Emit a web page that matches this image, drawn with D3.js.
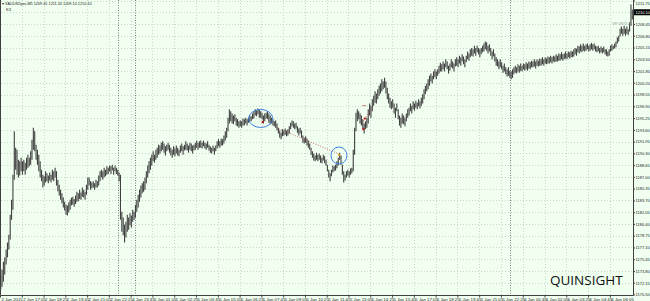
<!DOCTYPE html>
<html>
<head>
<meta charset="utf-8">
<script src="https://cdn.jsdelivr.net/npm/d3@7"></script>
<style>
	html, body { margin:0; padding:0; background:#f0fff0; }
	svg { display:block; font-family:"Liberation Sans", Arial, sans-serif; }
</style>
</head>
<body>
<svg id="chart" width="650" height="301"></svg>
<script>
// XAUUSD M5 candles, 2 Jan 2015 -> 6 Jan 2015, drawn as high/low bars
//	One pair of arrays (lo, hi) per trading session

var jan2Lo = [1171.2,1171.6,1172.3,1173.3,1174.7,1175.7,1176.8,1178.2,1181.0,1182.4,
	1186.6,1188.0,1187.3,1186.9,1187.2,1187.8,1187.3,1187.8,1187.3,1188.0,
	1188.3,1188.5,1188.7,1189.4,1190.8,1190.6,1189.4,1188.7,1187.8,1186.9,
	1186.4,1185.5,1185.8,1186.2,1186.4,1186.1,1186.5,1186.2,1186.6,1186.4,
	1186.9,1185.8,1185.0,1184.4,1183.8,1183.3,1182.7,1182.3,1181.7,1181.6,
	1182.0,1182.4,1183.0,1183.1,1182.8,1183.2,1183.5,1183.6,1183.9,1183.8,
	1184.2,1184.1,1183.8,1184.5,1185.2,1185.8,1185.2,1185.4,1185.5,1185.2,
	1185.5,1185.5,1185.8,1186.4,1186.9,1186.6,1186.9,1187.1,1187.3,1187.4,
	1187.8,1187.4,1187.9,1187.3,1187.8,1187.4,1187.2];
var jan2Hi = [1173.3,1174.0,1175.1,1175.7,1176.8,1177.8,1178.9,1181.7,1183.8,1187.3,
	1193.4,1191.1,1190.8,1189.4,1189.2,1189.7,1189.2,1189.4,1189.0,1189.7,
	1190.1,1189.7,1190.6,1192.2,1193.9,1193.4,1191.5,1190.8,1190.1,1189.2,
	1188.0,1187.3,1187.1,1187.8,1187.5,1187.2,1187.6,1187.3,1188.0,1187.8,
	1188.3,1187.8,1186.6,1185.9,1185.2,1184.7,1184.1,1183.5,1183.1,1183.0,
	1183.4,1183.8,1184.1,1184.2,1183.9,1184.4,1184.9,1184.7,1185.2,1184.8,
	1185.5,1185.2,1184.9,1185.9,1186.9,1186.9,1186.4,1186.2,1186.4,1186.1,
	1186.6,1186.4,1187.2,1187.8,1188.0,1187.8,1188.3,1188.0,1188.5,1188.3,
	1188.6,1188.5,1188.7,1188.3,1188.6,1188.3,1188.0];

var jan4Lo = [1186.4,1181.0,1179.3,1178.8,1177.8,1178.5,1179.3,1179.6,1180.2,1179.9,1180.7,1181.0];
var jan4Hi = [1187.6,1187.3,1182.1,1181.3,1180.3,1180.7,1181.7,1181.3,1181.9,1181.6,1182.4,1182.1];

var jan5Lo = [1181.3,1182.1,1182.7,1183.5,1184.1,1184.7,1184.9,1185.2,1186.1,1186.9,
	1187.5,1188.0,1188.6,1189.2,1189.0,1189.4,1189.7,1190.1,1190.3,1190.6,
	1190.8,1190.4,1190.0,1190.6,1190.8,1190.4,1190.0,1189.7,1190.1,1189.9,
	1190.3,1190.0,1189.9,1190.4,1190.6,1190.1,1190.7,1190.8,1190.7,1190.4,
	1190.8,1190.6,1190.3,1190.7,1190.8,1191.1,1190.8,1191.1,1191.1,1191.0,
	1191.3,1191.0,1190.8,1191.1,1190.7,1190.4,1190.3,1190.6,1190.1,1190.6,
	1191.0,1191.3,1191.1,1191.4,1191.4,1191.7,1192.1,1192.5,1193.4,1194.5,
	1194.8,1194.5,1194.4,1194.8,1194.2,1194.1,1193.9,1194.1,1193.9,1194.2,
	1194.2,1194.5,1194.2,1194.6,1194.8,1194.8,1195.1,1195.2,1195.6,1195.5,
	1195.8,1195.3,1195.3,1195.1,1194.5,1194.8,1195.2,1195.1,1194.6,1194.4,
	1194.5,1194.2,1194.1,1193.9,1193.5,1193.1,1192.5,1192.3,1192.7,1192.8,
	1192.9,1192.7,1192.8,1193.1,1193.7,1194.1,1193.9,1193.7,1193.8,1193.2,
	1192.8,1193.1,1192.5,1191.8,1191.7,1191.8,1191.4,1191.1,1190.8,1190.1,
	1189.7,1189.3,1189.2,1189.4,1189.2,1189.4,1189.0,1188.9,1189.3,1188.9,
	1188.6,1187.8,1186.9,1186.4,1187.1,1187.6,1187.8,1187.9,1188.2,1188.6,
	1189.4,1188.7,1187.3,1186.2,1186.5,1186.9,1187.2,1186.9,1187.3,1187.5,
	1187.8,1190.1,1193.4,1194.8,1195.1,1194.5,1194.2,1193.7,1193.1,1193.7,
	1193.9,1194.5,1195.6,1195.3,1196.2,1197.0,1197.4,1197.3,1197.9,1198.4,
	1198.7,1199.0,1199.3,1199.5,1198.7,1197.9,1197.3,1196.7,1196.5,1196.7,
	1195.9,1195.3,1196.2,1195.1,1194.2,1193.9,1194.5,1194.4,1194.1,1194.8,
	1195.3,1195.6,1196.2,1195.9,1196.5,1196.3,1196.7,1196.5,1196.9,1196.6,
	1197.0,1197.3,1197.9,1198.6,1199.0,1199.3,1199.8,1200.4,1200.1,1200.7,
	1201.0,1200.7,1201.2,1201.5,1201.8,1201.8,1202.1,1201.8,1202.4,1202.1,
	1201.5,1201.9,1202.4,1202.2,1201.8,1202.5,1202.6,1202.4,1202.9,1202.6,
	1203.2,1202.8,1202.4,1203.1,1203.5,1203.3,1203.8,1204.0,1203.9,1204.3,
	1204.0,1204.5,1204.2,1203.8,1204.2,1204.5,1204.6,1204.9,1204.7,1204.3,
	1204.6,1204.0,1203.5,1203.9,1203.2,1202.6,1202.5,1202.1,1202.4,1202.1,
	1201.6,1201.8,1201.4,1201.1,1201.2,1200.9];
var jan5Hi = [1183.1,1183.8,1184.5,1185.2,1185.8,1186.1,1186.4,1186.9,1187.8,1188.6,
	1189.2,1189.7,1190.1,1190.6,1190.1,1190.8,1191.1,1191.5,1191.4,1191.8,
	1192.0,1191.7,1191.3,1191.5,1191.8,1191.5,1191.1,1190.8,1191.3,1191.0,
	1191.4,1191.1,1190.8,1191.4,1191.7,1191.3,1191.5,1192.0,1191.7,1191.4,
	1191.8,1191.7,1191.4,1191.5,1191.8,1192.1,1191.8,1192.0,1192.1,1191.8,
	1192.1,1191.8,1191.7,1192.0,1191.5,1191.3,1191.1,1191.4,1191.1,1191.4,
	1192.0,1192.3,1192.0,1192.4,1192.3,1192.8,1193.4,1193.9,1195.3,1196.5,
	1196.2,1195.9,1195.6,1195.8,1195.3,1195.1,1194.8,1194.9,1194.8,1195.2,
	1195.1,1195.3,1195.1,1195.3,1195.6,1195.5,1195.9,1196.2,1196.5,1196.3,
	1196.6,1196.5,1196.2,1196.0,1195.6,1195.9,1196.0,1196.2,1195.9,1195.6,
	1195.3,1195.1,1194.8,1194.9,1194.5,1193.9,1193.5,1193.2,1193.7,1193.5,
	1193.8,1193.5,1193.7,1194.1,1194.6,1194.9,1194.8,1194.5,1194.6,1194.1,
	1193.8,1193.9,1193.5,1192.8,1192.5,1192.7,1192.4,1192.1,1191.7,1191.1,
	1190.6,1190.3,1190.0,1190.4,1190.1,1190.3,1190.0,1189.7,1190.1,1189.9,
	1189.4,1188.7,1188.0,1187.5,1188.0,1188.6,1188.5,1188.7,1189.2,1189.7,
	1190.4,1190.0,1188.7,1187.8,1187.3,1187.8,1188.0,1187.8,1188.2,1188.3,
	1190.8,1193.9,1196.0,1196.5,1196.2,1195.9,1195.6,1195.1,1194.5,1194.8,
	1195.3,1196.5,1197.3,1197.0,1197.9,1198.4,1199.0,1198.7,1199.3,1199.8,
	1200.1,1200.7,1200.4,1200.9,1200.4,1199.5,1198.7,1198.1,1197.6,1197.9,
	1197.3,1196.7,1197.3,1196.5,1195.6,1195.3,1195.9,1195.6,1195.3,1195.9,
	1196.5,1196.7,1197.3,1197.0,1197.6,1197.3,1197.7,1197.4,1197.9,1197.6,
	1198.1,1198.6,1199.3,1199.8,1200.1,1200.7,1201.2,1201.5,1201.2,1201.8,
	1202.1,1201.8,1202.1,1202.6,1203.0,1202.8,1203.2,1202.9,1203.5,1203.2,
	1202.6,1202.9,1203.5,1203.2,1202.9,1203.5,1203.8,1203.5,1204.0,1203.8,
	1204.2,1203.9,1203.5,1204.0,1204.6,1204.3,1204.9,1205.1,1204.9,1205.4,
	1205.1,1205.4,1205.1,1204.9,1205.1,1205.4,1205.7,1206.0,1205.9,1205.4,
	1205.6,1205.1,1204.6,1204.9,1204.3,1203.8,1203.5,1203.2,1203.5,1203.1,
	1202.6,1202.9,1202.4,1202.1,1202.4,1201.9];

var jan6Lo = [1200.7,1200.9,1201.4,1201.6,1201.5,1201.8,1201.6,1201.9,1201.8,1202.1,
	1201.9,1202.1,1201.9,1202.2,1202.1,1202.4,1202.4,1202.5,1202.2,1202.6,
	1202.5,1202.6,1202.6,1202.8,1202.6,1202.9,1202.8,1202.9,1202.9,1203.1,
	1202.9,1203.2,1203.1,1203.2,1203.2,1203.3,1203.3,1203.5,1203.3,1203.5,
	1203.6,1203.5,1203.8,1203.6,1203.8,1203.8,1203.9,1204.2,1204.0,1204.5,
	1204.3,1204.6,1204.5,1204.7,1204.6,1204.7,1204.9,1204.6,1204.7,1204.9,
	1204.7,1204.9,1204.6,1204.5,1204.6,1204.3,1204.5,1204.3,1204.5,1204.2,
	1204.0,1203.9,1204.0,1204.6,1204.7,1204.9,1205.0,1205.2,1205.7,1206.0,
	1206.7,1207.1,1206.8,1207.1,1206.8,1207.1,1206.9,1207.4,1208.2,1209.1];
var jan6Hi = [1201.8,1202.1,1202.4,1202.6,1202.4,1202.8,1202.6,1202.9,1202.6,1202.9,
	1202.8,1203.1,1202.9,1203.2,1203.1,1203.3,1203.2,1203.5,1203.2,1203.5,
	1203.3,1203.6,1203.5,1203.8,1203.5,1203.8,1203.6,1203.9,1203.8,1204.0,
	1203.8,1204.0,1203.9,1204.2,1204.0,1204.3,1204.2,1204.5,1204.2,1204.3,
	1204.6,1204.3,1204.6,1204.5,1204.7,1204.6,1204.9,1205.1,1205.0,1205.4,
	1205.3,1205.6,1205.4,1205.7,1205.4,1205.6,1205.7,1205.4,1205.6,1205.8,
	1205.6,1205.7,1205.4,1205.3,1205.4,1205.1,1205.3,1205.1,1205.3,1204.9,
	1204.9,1204.6,1204.9,1205.4,1205.6,1205.4,1205.7,1206.0,1206.6,1206.8,
	1207.8,1208.1,1207.8,1208.2,1207.8,1208.1,1207.7,1208.7,1211.2,1210.5];

var priceTicks = [1170.50,1172.15,1173.80,1175.45,1177.10,1178.75,1180.40,1182.05,1183.70,
	1185.35,1187.00,1188.65,1190.30,1191.95,1193.60,1195.25,1196.90,1198.55,1200.20,
	1201.85,1203.50,1205.15,1206.80,1208.45,1210.10,1211.75];

var timeTicks = ["2 Jan 2015","2 Jan 17:05","2 Jan 18:25","2 Jan 19:45","2 Jan 21:05",
	"2 Jan 22:25","4 Jan 23:45","5 Jan 01:05","5 Jan 02:25","5 Jan 03:45","5 Jan 05:05",
	"5 Jan 06:25","5 Jan 07:45","5 Jan 09:05","5 Jan 10:25","5 Jan 11:45","5 Jan 13:05",
	"5 Jan 14:25","5 Jan 15:45","5 Jan 17:05","5 Jan 18:25","5 Jan 19:45","5 Jan 21:05",
	"5 Jan 22:25","6 Jan 00:45","6 Jan 02:05","6 Jan 03:25","6 Jan 04:45","6 Jan 06:05"];

var lastPrice = 1210.10;
var titleText = "\u25BE XAUUSDpro,M5  1209.45 1211.20 1209.10 1210.10";

	// Drawn objects: [bar index, price] pairs
var trendLines = [ [[203, 1193.9], [248, 1190.3]], [[267, 1194.8], [273, 1196.7]] ];
var ellipses = [ { b: 191.5, p: 1195.2, rx: 12, ry: 9 }, { b: 249, p: 1190.0, rx: 8, ry: 8.5 } ];
var marks = [ { b: 193, p: 1194.7, c: "#b01010" }, { b: 267, p: 1193.7, c: "#c01818" },
	{ b: 268, p: 1195.2, c: "#c01818" }, { b: 249, p: 1190.1, c: "#e0a020" } ];

// ================================================================================

var svg = d3.select("#chart");
var sessions = [ [jan2Lo, jan2Hi], [jan4Lo, jan4Hi], [jan5Lo, jan5Hi], [jan6Lo, jan6Hi] ];
var bars = [], seps = [];

sessions.forEach(function(s, sI) {
	if (sI > 0) {
		seps.push(bars.length);
	}
	s[0].forEach(function(lo, i) {
		bars.push({ i: bars.length, lo: lo, hi: s[1][i] });
	});
});

var plotR = 633, plotB = 295;
var x = d3.scaleLinear().domain([0, bars.length]).range([0, plotR]);
var y = d3.scaleLinear().domain([1170.5, 1211.75]).range([294.5, 0.5]);
var tickStep = 16;
var tickIdx = timeTicks.map(function(t, i) { return i*tickStep; });
var axisFont = "'Liberation Sans', Arial, sans-serif";

svg.append("rect").attr("width", 650).attr("height", 301).attr("fill", "#f0fff0");

	// Grid
var grid = svg.append("g").attr("stroke", "#b9c6b9").attr("stroke-width", 0.7)
	.attr("stroke-dasharray", "1,2");
grid.selectAll(".hg").data(priceTicks).enter().append("line")
	.attr("x1", 1).attr("x2", plotR)
	.attr("y1", function(d) { return Math.round(y(d))+0.5; })
	.attr("y2", function(d) { return Math.round(y(d))+0.5; });
grid.selectAll(".vg").data(tickIdx.slice(1)).enter().append("line")
	.attr("y1", 0).attr("y2", plotB)
	.attr("x1", function(d) { return Math.round(x(d))+0.5; })
	.attr("x2", function(d) { return Math.round(x(d))+0.5; });

	// Period separators
svg.append("g").selectAll("line").data(seps).enter().append("line")
	.attr("y1", 0).attr("y2", plotB)
	.attr("x1", function(d) { return Math.round(x(d))+0.5; })
	.attr("x2", function(d) { return Math.round(x(d))+0.5; })
	.attr("stroke", "#7a7a7a").attr("stroke-width", 1).attr("stroke-dasharray", "1,1.5");

	// Bars
svg.append("g").selectAll("line").data(bars).enter().append("line")
	.attr("x1", function(d) { return x(d.i+0.5); })
	.attr("x2", function(d) { return x(d.i+0.5); })
	.attr("y1", function(d) { return y(d.hi); })
	.attr("y2", function(d) { return y(d.lo); })
	.attr("stroke", "#404040").attr("stroke-width", 1.1);

	// Drawn objects
svg.append("g").selectAll("line").data(trendLines).enter().append("line")
	.attr("x1", function(d) { return x(d[0][0]); })
	.attr("y1", function(d) { return y(d[0][1]); })
	.attr("x2", function(d) { return x(d[1][0]); })
	.attr("y2", function(d) { return y(d[1][1]); })
	.attr("stroke", "#c05050").attr("stroke-width", 0.8).attr("stroke-dasharray", "1,1.5");
svg.append("g").selectAll("ellipse").data(ellipses).enter().append("ellipse")
	.attr("cx", function(d) { return x(d.b); })
	.attr("cy", function(d) { return y(d.p); })
	.attr("rx", function(d) { return d.rx; })
	.attr("ry", function(d) { return d.ry; })
	.attr("fill", "none").attr("stroke", "#3b7fe0").attr("stroke-width", 1);
svg.append("g").selectAll("rect").data(marks).enter().append("rect")
	.attr("x", function(d) { return x(d.b)-1; })
	.attr("y", function(d) { return y(d.p)-1; })
	.attr("width", 2).attr("height", 2)
	.attr("fill", function(d) { return d.c; });
svg.append("line").attr("x1", x(266)).attr("x2", x(269))
	.attr("y1", y(1197.0)).attr("y2", y(1197.0))
	.attr("stroke", "#d06060").attr("stroke-width", 0.8);

	// Frame
svg.append("path").attr("d", "M0.5,0 V" + (plotB+0.5) + " H" + (plotR+0.5) + " V0")
	.attr("fill", "none").attr("stroke", "#404040").attr("stroke-width", 1);

	// Price axis
var yAxis = d3.axisRight(y).tickValues(priceTicks).tickSize(1.5).tickPadding(0.5)
	.tickFormat(d3.format(".2f"));
var ya = svg.append("g").attr("transform", "translate(" + (plotR+0.5) + ",0)").call(yAxis);
ya.select(".domain").remove();
ya.selectAll("line").attr("stroke", "#404040");
ya.selectAll("text").attr("font-size", 4).attr("fill", "#222").attr("font-family", axisFont);
ya.selectAll(".tick").filter(function(d) { return d === lastPrice; }).remove();
	// Top label sits on the edge: nudge it down so it stays readable
ya.selectAll(".tick").filter(function(d) { return d === priceTicks[priceTicks.length-1]; })
	.select("text").attr("dy", "0.95em");

	// Current price label
var lp = svg.append("g").attr("transform", "translate(" + (plotR+1) + "," + y(lastPrice) + ")");
lp.append("rect").attr("x", 0).attr("y", -3).attr("width", 16).attr("height", 6).attr("fill", "#000");
lp.append("text").attr("x", 1.5).attr("y", 1.5).attr("font-size", 4).attr("fill", "#fff")
	.attr("font-family", axisFont).text(d3.format(".2f")(lastPrice));

	// Time axis
var xAxis = d3.axisBottom(x).tickValues(tickIdx).tickSize(2).tickPadding(0.5)
	.tickFormat(function(d, i) { return timeTicks[i]; });
var xa = svg.append("g").attr("transform", "translate(0," + (plotB+0.5) + ")").call(xAxis);
xa.select(".domain").remove();
xa.selectAll("line").attr("stroke", "#404040");
xa.selectAll("text").attr("font-size", 4.3).attr("fill", "#222").attr("text-anchor", "start")
	.attr("dx", 1).attr("font-family", axisFont);

	// Title, labels and watermark
svg.append("text").attr("x", 2).attr("y", 4.5).attr("font-size", 3.8).attr("fill", "#222")
	.attr("font-family", axisFont).text(titleText);
svg.append("text").attr("x", 6).attr("y", 10.5).attr("font-size", 4).attr("fill", "#222")
	.attr("font-family", axisFont).text("K3");
svg.append("text").attr("x", 612).attr("y", 25).attr("font-size", 4).attr("fill", "#999")
	.attr("font-family", axisFont).text("VP 0973 S");
svg.append("text").attr("x", 550).attr("y", 285).attr("font-size", 13.5)
	.attr("font-family", "'Open Sans', sans-serif").attr("fill", "#111").text("QUINSIGHT");
</script>
</body>
</html>
